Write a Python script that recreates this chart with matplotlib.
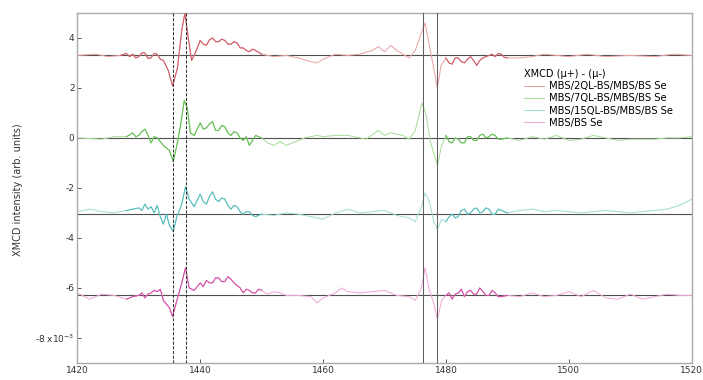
"""
XMCD スペクトル（4 試料）をオフセットして重ね描き
"""
import numpy as np
import matplotlib
matplotlib.use("Agg")
import matplotlib.pyplot as plt

# ---- data (values in units of 1e-3, relative to each baseline) ----
labels = ["MBS/2QL-BS/MBS/BS Se", "MBS/7QL-BS/MBS/BS Se",
          "MBS/15QL-BS/MBS/BS Se", "MBS/BS Se"]
offsets = [3.3, 0.0, -3.05, -6.3]

x_2ql = [1420, 1423, 1425, 1427, 1428, 1428.5, 1429, 1429.5, 1430, 1430.5, 1431, 1431.5,
         1432, 1432.5, 1433, 1433.5, 1434, 1434.8, 1435.5, 1436.3, 1437, 1437.5, 1438,
         1438.6, 1439.2, 1440, 1440.5, 1441, 1441.5, 1442, 1442.5, 1443, 1443.5, 1444,
         1444.5, 1445, 1445.5, 1446, 1446.5, 1447, 1447.5, 1448, 1448.5, 1449, 1450,
         1452, 1454, 1456, 1458, 1459, 1460, 1462, 1464, 1466, 1468, 1469, 1470, 1471,
         1472, 1473, 1474, 1475, 1476, 1476.6, 1477.3, 1478, 1478.6, 1479.2, 1480,
         1480.5, 1481, 1481.5, 1482, 1482.5, 1483, 1483.5, 1484, 1484.5, 1485, 1485.5,
         1486, 1486.5, 1487, 1487.5, 1488, 1488.5, 1489, 1489.5, 1490, 1492, 1494,
         1496, 1498, 1500, 1503, 1506, 1510, 1514, 1517, 1520]
y_2ql = [0.0, 0.05, -0.05, 0.0, 0.08, -0.05, 0.05, -0.1, -0.05, 0.1, 0.1, -0.12,
         -0.1, 0.08, 0.05, -0.15, -0.2, -0.6, -1.22, -0.5, 1.0, 1.7, 0.8,
         -0.2, 0.1, 0.6, 0.45, 0.4, 0.62, 0.7, 0.55, 0.55, 0.65, 0.6,
         0.45, 0.45, 0.55, 0.5, 0.3, 0.3, 0.2, 0.15, 0.25, 0.2, 0.05,
         -0.05, 0.0, -0.1, -0.25, -0.3, -0.15, 0.05, 0.0, 0.05, 0.2, 0.35, 0.15, 0.4,
         0.2, 0.05, -0.1, 0.2, 0.9, 1.3, 0.4, -0.5, -1.3, -0.4, -0.1,
         -0.3, -0.35, -0.1, -0.1, -0.25, -0.3, -0.15, -0.05, -0.2, -0.4, -0.2,
         -0.1, -0.05, 0.0, 0.05, -0.05, 0.08, 0.05, -0.08, -0.1, -0.1, -0.05,
         0.05, 0.0, -0.05, 0.05, -0.05, 0.0, -0.05, 0.05, 0.0]

x_7ql = [1420, 1424, 1426, 1428, 1428.5, 1429, 1429.5, 1430, 1430.5, 1431, 1431.5, 1432,
         1432.5, 1433, 1433.5, 1434, 1435, 1435.6, 1436.2, 1436.8, 1437.4, 1437.9,
         1438.4, 1439, 1440, 1440.5, 1441, 1441.5, 1442, 1442.5, 1443, 1443.5, 1444,
         1444.5, 1445, 1445.5, 1446, 1446.5, 1447, 1447.5, 1448, 1448.5, 1449, 1450,
         1451, 1452, 1453, 1454, 1456, 1457, 1459, 1460, 1462, 1464, 1465, 1467, 1469,
         1470, 1471, 1472, 1473, 1474, 1475, 1476.1, 1476.8, 1477.4, 1478, 1478.6,
         1479.3, 1480, 1480.5, 1481, 1481.5, 1482, 1482.5, 1483, 1483.5, 1484, 1484.5,
         1485, 1485.5, 1486, 1486.5, 1487, 1487.5, 1488, 1488.5, 1489, 1490, 1492,
         1494, 1496, 1498, 1500, 1502, 1504, 1506, 1508, 1510, 1512, 1514, 1516,
         1518, 1520]
y_7ql = [0.0, -0.05, 0.05, 0.05, 0.12, 0.2, 0.05, 0.1, 0.25, 0.35, 0.1, -0.2,
         0.05, 0.0, -0.15, -0.3, -0.5, -0.95, -0.3, 0.5, 1.5, 1.2,
         0.2, 0.1, 0.6, 0.35, 0.4, 0.55, 0.65, 0.3, 0.3, 0.5, 0.45,
         0.2, 0.1, 0.25, 0.2, 0.0, -0.1, 0.05, -0.3, -0.1, 0.1, 0.0,
         -0.2, -0.3, -0.15, -0.3, -0.1, 0.0, 0.1, 0.05, 0.1, 0.1, 0.05, -0.05, 0.3,
         0.1, 0.2, 0.15, 0.1, -0.05, 0.3, 1.4, 0.9, -0.1, -0.6, -1.1,
         -0.3, 0.1, -0.15, -0.2, 0.0, -0.05, -0.2, -0.2, 0.05, 0.05, -0.1,
         -0.1, 0.1, 0.15, 0.0, 0.05, 0.15, 0.1, -0.05, -0.05, 0.0, -0.1,
         0.05, -0.05, 0.1, -0.1, -0.05, 0.1, 0.0, -0.1, -0.05, -0.05, -0.05, 0.0,
         0.0, 0.05]

x_15ql = [1420, 1422, 1424, 1426, 1428, 1429, 1430, 1430.5, 1431, 1431.5, 1432, 1432.5,
          1433, 1433.5, 1434, 1434.5, 1435, 1435.6, 1436.2, 1437, 1437.6, 1438.2, 1439,
          1440, 1440.5, 1441, 1441.5, 1442, 1442.5, 1443, 1443.5, 1444, 1444.5, 1445,
          1445.5, 1446, 1446.5, 1447, 1447.5, 1448, 1448.5, 1449, 1450, 1452, 1454,
          1456, 1458, 1460, 1462, 1464, 1466, 1468, 1470, 1472, 1474, 1475, 1476,
          1476.6, 1477.3, 1478, 1478.6, 1479.3, 1480, 1480.5, 1481, 1481.5, 1482,
          1482.5, 1483, 1483.5, 1484, 1484.5, 1485, 1485.5, 1486, 1486.5, 1487, 1487.5,
          1488, 1488.5, 1489, 1490, 1492, 1494, 1496, 1498, 1500, 1502, 1504, 1506,
          1508, 1510, 1512, 1514, 1516, 1518, 1520]
y_15ql = [0.1, 0.2, 0.1, 0.05, 0.15, 0.2, 0.25, 0.15, 0.4, 0.2, 0.3, 0.05,
          0.35, -0.1, -0.4, 0.0, -0.45, -0.7, -0.1, 0.4, 1.1, 0.6, 0.3,
          0.8, 0.5, 0.4, 0.7, 0.9, 0.6, 0.5, 0.65, 0.6, 0.35, 0.2,
          0.35, 0.3, 0.1, 0.0, 0.1, 0.1, -0.05, -0.1, 0.0, -0.05, 0.05,
          0.0, -0.1, -0.2, 0.05, 0.2, 0.05, 0.1, 0.15, -0.05, -0.15, -0.3, 0.3,
          0.85, 0.5, -0.3, -0.6, -0.2, -0.3, -0.1, 0.0, -0.15, -0.1,
          0.15, 0.2, 0.0, 0.05, 0.2, 0.25, 0.05, 0.1, 0.25, 0.2, 0.0,
          0.0, 0.2, 0.15, 0.05, 0.15, 0.2, 0.1, 0.15, 0.1, 0.05, 0.1, 0.15,
          0.1, 0.05, 0.1, 0.15, 0.2, 0.35, 0.6]

x_bs = [1420, 1422, 1424, 1426, 1428, 1429, 1430, 1430.5, 1431, 1431.5, 1432, 1432.5,
        1433, 1433.5, 1434, 1435, 1435.5, 1436.2, 1437, 1437.6, 1438.2, 1439, 1440,
        1440.5, 1441, 1441.5, 1442, 1442.5, 1443, 1443.5, 1444, 1444.5, 1445, 1445.5,
        1446, 1446.5, 1447, 1447.5, 1448, 1448.5, 1449, 1449.5, 1450, 1451, 1452, 1453,
        1454, 1456, 1458, 1459, 1460, 1462, 1463, 1464, 1466, 1468, 1470, 1472, 1474,
        1475, 1476, 1476.6, 1477.3, 1478, 1478.6, 1479.3, 1480, 1480.5, 1481, 1481.5,
        1482, 1482.5, 1483, 1483.5, 1484, 1484.5, 1485, 1485.5, 1486, 1486.5, 1487,
        1487.5, 1488, 1488.5, 1489, 1490, 1492, 1494, 1496, 1498, 1500, 1502, 1504,
        1506, 1508, 1510, 1512, 1514, 1516, 1518, 1520]
y_bs = [0.1, -0.15, 0.05, 0.0, -0.15, -0.05, 0.0, 0.1, -0.1, 0.05, 0.1, 0.2,
        0.15, 0.25, -0.2, -0.5, -0.84, -0.2, 0.5, 1.1, 0.3, 0.2, 0.5,
        0.35, 0.6, 0.5, 0.5, 0.7, 0.7, 0.55, 0.55, 0.75, 0.65, 0.5,
        0.4, 0.3, 0.1, 0.25, 0.2, 0.1, 0.1, 0.25, 0.2, 0.05, 0.15, 0.1,
        0.0, 0.0, -0.05, -0.3, -0.1, 0.1, 0.3, 0.15, 0.1, 0.15, 0.2, 0.0, -0.05,
        -0.2, 0.3, 1.1, 0.2, -0.3, -0.95, -0.2, 0.0, 0.1, -0.15, 0.05,
        0.1, 0.25, -0.05, 0.15, 0.2, 0.05, 0.05, 0.3, 0.15, 0.0, 0.0,
        0.2, 0.1, -0.05, -0.05, 0.0, -0.05, 0.1, -0.05, 0.0, 0.15, -0.05, 0.2,
        -0.1, -0.15, 0.05, -0.15, -0.05, 0.05, 0.0, 0.0]

xs = [x_2ql, x_7ql, x_15ql, x_bs]
ys = [y_2ql, y_7ql, y_15ql, y_bs]
light_colors = ["#eca3a5", "#a9dd9b", "#a6dcd8", "#eeaad6"]
dark_colors = ["#cf5a66", "#62bf50", "#55bdbd", "#d24aa3"]
dense_ranges = [(1427, 1450), (1479.5, 1490)]
edge_lines = [1435.6, 1437.7, 1476.3, 1478.6]

fig = plt.figure(figsize=(7.03, 3.80), dpi=100)
ax = fig.add_axes([0.110, 0.045, 0.874, 0.921])

for i in range(4):
    x = np.array(xs[i])
    y = np.array(ys[i]) + offsets[i]
    ax.axhline(offsets[i], color="#505050", lw=0.8, zorder=1)
    ax.plot(x, y, color=light_colors[i], lw=0.75, zorder=2, label=labels[i])
    for lo, hi in dense_ranges:
        m = (x >= lo) & (x <= hi)
        ax.plot(x[m], y[m], color=dark_colors[i], lw=0.75, zorder=3)

for k, xv in enumerate(edge_lines):
    if k < 2:
        ax.axvline(xv, color="#333333", lw=0.75, ls=(0, (3, 1.5)), zorder=4)
    else:
        ax.axvline(xv, color="#606060", lw=0.75, zorder=4)

ax.set_xlim(1420, 1520)
ax.set_ylim(-9, 5)
ax.set_xticks([1420, 1440, 1460, 1480, 1500, 1520])
ax.set_yticks([4, 2, 0, -2, -4, -6, -8])
ax.set_yticklabels(["4", "2", "0", "-2", "-4", "-6", "-8 x10$^{-3}$"])
ax.tick_params(direction="in", length=3, width=0.7, labelsize=6.5,
               colors="#555555", labelcolor="#333333", top=False, right=False, pad=2)
for sp in ax.spines.values():
    sp.set_color("#aaaaaa")
    sp.set_linewidth(1.0)

fig.text(0.026, 0.5, "XMCD intensity (arb. units)", rotation=90,
         ha="center", va="center", fontsize=7, color="#333333")

leg = ax.legend(title="XMCD (\u03bc+) - (\u03bc-)", loc="upper left",
                bbox_to_anchor=(0.727, 0.84), frameon=False, fontsize=7.2,
                title_fontsize=7.0, handlelength=2.0, handletextpad=0.5,
                labelspacing=0.22, borderaxespad=0, borderpad=0)
leg._legend_box.align = "left"

fig.savefig("out.png", dpi=100)
